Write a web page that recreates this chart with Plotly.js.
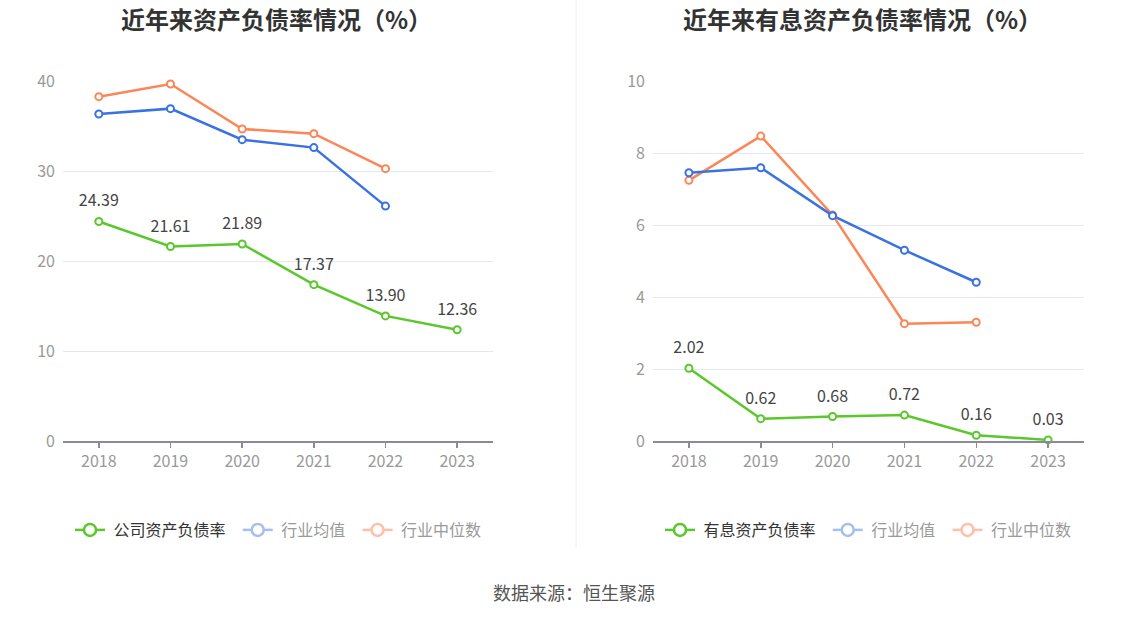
<!DOCTYPE html>
<html>
<head>
<meta charset="utf-8">
<script src="https://cdn.plot.ly/plotly-3.0.1.min.js"></script>
<style>html,body{margin:0;padding:0;background:#fff;}#chart{width:1148px;height:619px;}</style>
</head>
<body>
<div id="chart"></div>
<script>
const years = ['2018', '2019', '2020', '2021', '2022', '2023'];
const companyDebt = [24.39, 21.61, 21.89, 17.37, 13.90, 12.36];
const industryAvgDebt = [36.33, 36.93, 33.48, 32.60, 26.10, null];
const industryMedDebt = [38.26, 39.67, 34.67, 34.15, 30.26, null];
const companyIntDebt = [2.02, 0.62, 0.68, 0.72, 0.16, 0.03];
const industryAvgInt = [7.45, 7.59, 6.26, 5.30, 4.41, null];
const industryMedInt = [7.24, 8.47, 6.28, 3.26, 3.30, null];

const titleLeft = '近年来资产负债率情况（%）';
const titleRight = '近年来有息资产负债率情况（%）';
const nameCompanyLeft = '公司资产负债率';
const nameCompanyRight = '有息资产负债率';
const nameAvg = '行业均值';
const nameMed = '行业中位数';
const sourceText = '数据来源：恒生聚源';

const GREEN = '#5ac72c', BLUE = '#3a72e0', ORANGE = '#fb8657';
const FADE_BLUE = '#a6bff2', FADE_ORANGE = '#fdc0a8';
const FONT = '"Noto Sans CJK SC", "Noto Sans", sans-serif';

function series(x, y, color, xa, ya) {
  return {
    x: x, y: y, xaxis: xa, yaxis: ya, type: 'scatter', mode: 'lines+markers',
    line: {color: color, width: 2.5},
    marker: {symbol: 'circle', size: 7, color: '#fff', line: {color: color, width: 2}},
    showlegend: false, hoverinfo: 'skip', cliponaxis: false
  };
}
function labels(x, y, xa, ya) {
  return {
    x: x, y: y, xaxis: xa, yaxis: ya, type: 'scatter', mode: 'markers+text',
    marker: {size: 16, color: 'rgba(0,0,0,0)'},
    texttemplate: '%{y:.2f}', textposition: 'top center',
    textfont: {size: 16, color: '#444', family: FONT},
    showlegend: false, hoverinfo: 'skip', cliponaxis: false
  };
}
function legendItem(name, textColor, color, legend, xa, ya) {
  return {
    x: [null], y: [null], xaxis: xa, yaxis: ya, type: 'scatter', mode: 'lines+markers',
    name: '<span style="color:' + textColor + '">&nbsp;' + name + '&nbsp;&nbsp;</span>', legend: legend,
    line: {color: color, width: 2.5},
    marker: {symbol: 'circle', size: 12, color: '#fff', line: {color: color, width: 2.5}},
    hoverinfo: 'skip'
  };
}

const data = [
  series(years, industryMedDebt, ORANGE, 'x', 'y'),
  series(years, industryAvgDebt, BLUE, 'x', 'y'),
  series(years, companyDebt, GREEN, 'x', 'y'),
  labels(years, companyDebt, 'x', 'y'),
  series(years, industryMedInt, ORANGE, 'x2', 'y2'),
  series(years, industryAvgInt, BLUE, 'x2', 'y2'),
  series(years, companyIntDebt, GREEN, 'x2', 'y2'),
  labels(years, companyIntDebt, 'x2', 'y2'),
  legendItem(nameCompanyLeft, '#333', GREEN, 'legend', 'x', 'y'),
  legendItem(nameAvg, '#9a9a9a', FADE_BLUE, 'legend', 'x', 'y'),
  legendItem(nameMed, '#9a9a9a', FADE_ORANGE, 'legend', 'x', 'y'),
  legendItem(nameCompanyRight, '#333', GREEN, 'legend2', 'x2', 'y2'),
  legendItem(nameAvg, '#9a9a9a', FADE_BLUE, 'legend2', 'x2', 'y2'),
  legendItem(nameMed, '#9a9a9a', FADE_ORANGE, 'legend2', 'x2', 'y2')
];

const W = 1148, H = 619;
const yDom = [1 - 441 / H, 1 - 81 / H];
function xaxis(d, anchor) {
  return {
    domain: d, anchor: anchor, type: 'category', range: [-0.5, 5.5],
    showline: true, linecolor: '#8a8a9a', linewidth: 1.5,
    ticks: 'outside', ticklen: 5, tickcolor: '#8a8a9a', tickwidth: 1.5,
    showgrid: false, zeroline: false,
    tickfont: {size: 16, color: '#999', family: FONT}, fixedrange: true
  };
}
function yaxis(anchor, range, dtick) {
  return {
    domain: yDom, anchor: anchor, range: range, dtick: dtick,
    showline: false, zeroline: false, showgrid: true, gridcolor: '#e5e8f2', gridwidth: 1,
    ticks: '', ticklabelstandoff: 7,
    tickfont: {size: 16, color: '#999', family: FONT}, fixedrange: true
  };
}
const legendBase = {
  orientation: 'h', yanchor: 'middle', xanchor: 'left', y: 1 - 530 / H,
  font: {size: 16, family: FONT, color: '#333'}, bgcolor: 'rgba(0,0,0,0)',
  itemclick: false, itemdoubleclick: false, tracegroupgap: 0
};

const layout = {
  width: W, height: H, margin: {l: 0, r: 0, t: 0, b: 0},
  paper_bgcolor: '#fff', plot_bgcolor: '#fff',
  font: {family: FONT},
  xaxis: xaxis([63 / W, 493 / W], 'y'),
  yaxis: yaxis('x', [0, 40], 10),
  xaxis2: xaxis([653 / W, 1084 / W], 'y2'),
  yaxis2: yaxis('x2', [0, 10], 2),
  legend: Object.assign({}, legendBase, {x: 70 / W}),
  legend2: Object.assign({}, legendBase, {x: 660 / W}),
  shapes: [{
    type: 'line', xref: 'paper', yref: 'paper',
    x0: 576 / W, x1: 576 / W, y0: 1 - 548 / H, y1: 1,
    line: {color: '#eeeeee', width: 1}
  }],
  annotations: [
    {text: '<b>' + titleLeft + '</b>', xref: 'paper', yref: 'paper', x: 276 / W, y: 1 - 18 / H,
     xanchor: 'center', yanchor: 'middle', showarrow: false, font: {size: 24, color: '#333', family: FONT}},
    {text: '<b>' + titleRight + '</b>', xref: 'paper', yref: 'paper', x: 862 / W, y: 1 - 18 / H,
     xanchor: 'center', yanchor: 'middle', showarrow: false, font: {size: 24, color: '#333', family: FONT}},
    {text: sourceText, xref: 'paper', yref: 'paper', x: 574 / W, y: 1 - 592 / H,
     xanchor: 'center', yanchor: 'middle', showarrow: false, font: {size: 18, color: '#555', family: FONT}}
  ]
};

Plotly.newPlot('chart', data, layout, {displayModeBar: false, staticPlot: true});
</script>
</body>
</html>
